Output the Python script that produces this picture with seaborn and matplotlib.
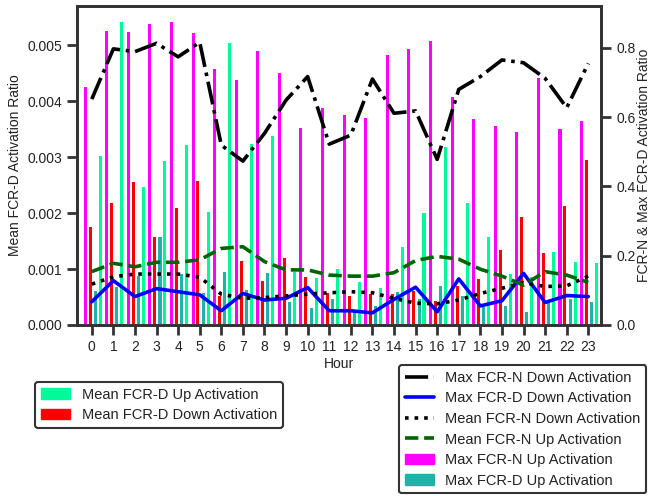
import numpy as np
import pandas as pd
import matplotlib
matplotlib.use("Agg")
import matplotlib.pyplot as plt
import seaborn as sns
from matplotlib.patches import Patch
from matplotlib.lines import Line2D
from matplotlib.ticker import FormatStrFormatter

hours = list(range(24))

# Left axis (bars)
mean_fcrd_up = [0.00303, 0.00541, 0.00247, 0.00293, 0.00321, 0.00202, 0.00505, 0.00324,
                0.00338, 0.00095, 0.00084, 0.00100, 0.00076, 0.00067, 0.00140, 0.00201,
                0.00319, 0.00219, 0.00158, 0.00092, 0.00085, 0.00130, 0.00112, 0.00110]
mean_fcrd_down = [0.00176, 0.00219, 0.00256, 0.00157, 0.00209, 0.00258, 0.00051, 0.00115,
                  0.00079, 0.00120, 0.00086, 0.00057, 0.00052, 0.00055, 0.00055, 0.00060,
                  0.00042, 0.00069, 0.00082, 0.00134, 0.00194, 0.00128, 0.00213, 0.00295]

# Right axis (bars)
max_fcrn_up = [0.686, 0.849, 0.846, 0.869, 0.874, 0.842, 0.739, 0.707,
               0.791, 0.726, 0.568, 0.625, 0.606, 0.598, 0.779, 0.797,
               0.820, 0.657, 0.594, 0.575, 0.558, 0.714, 0.566, 0.590]
max_fcrd_up = [0.099, 0.109, 0.141, 0.253, 0.147, 0.091, 0.152, 0.101,
               0.151, 0.067, 0.048, 0.075, 0.038, 0.055, 0.094, 0.075,
               0.113, 0.084, 0.053, 0.056, 0.038, 0.063, 0.075, 0.066]

# Right axis (lines)
max_fcrn_down = [0.652, 0.797, 0.789, 0.813, 0.774, 0.816, 0.519, 0.473,
                 0.553, 0.649, 0.717, 0.522, 0.548, 0.710, 0.611, 0.618,
                 0.478, 0.680, 0.717, 0.765, 0.757, 0.712, 0.627, 0.755]
max_fcrd_down = [0.067, 0.128, 0.082, 0.105, 0.096, 0.087, 0.041, 0.091,
                 0.072, 0.077, 0.108, 0.041, 0.041, 0.035, 0.074, 0.109,
                 0.038, 0.133, 0.055, 0.070, 0.149, 0.065, 0.085, 0.082]
mean_fcrn_down = [0.118, 0.139, 0.147, 0.147, 0.147, 0.138, 0.089, 0.077,
                  0.079, 0.084, 0.089, 0.093, 0.096, 0.093, 0.077, 0.063,
                  0.061, 0.072, 0.091, 0.106, 0.122, 0.111, 0.113, 0.141]
mean_fcrn_up = [0.154, 0.178, 0.168, 0.181, 0.181, 0.188, 0.221, 0.226,
                0.183, 0.159, 0.159, 0.144, 0.141, 0.141, 0.151, 0.186,
                0.198, 0.190, 0.161, 0.141, 0.115, 0.154, 0.144, 0.123]

sns.set_style("ticks")
plt.rcParams['font.family'] = ['Liberation Sans', 'DejaVu Sans']
plt.rcParams['font.size'] = 10

fig = plt.figure(figsize=(6.53, 4.96), dpi=100)
ax1 = fig.add_axes([0.1184, 0.3448, 0.9204 - 0.1184, 0.9885 - 0.3448])
ax2 = ax1.twinx()

h = np.array(hours, dtype=float)
bw = 0.14
c_green = "#00FA9A"
c_red = "#FF0000"
c_mag = "#FF00FF"
c_teal = "#20B2AA"

bar_kw = dict(native_scale=True, width=bw, saturation=1, errorbar=None,
              linewidth=0, antialiased=False)
sns.barplot(x=h - 0.08, y=mean_fcrd_down, color=c_red, ax=ax1, **bar_kw)
sns.barplot(x=h + 0.39, y=mean_fcrd_up, color=c_green, ax=ax1, **bar_kw)
sns.barplot(x=h - 0.31, y=max_fcrn_up, color=c_mag, ax=ax2, **bar_kw)
sns.barplot(x=h + 0.16, y=max_fcrd_up, color=c_teal, ax=ax2, **bar_kw)

lw = 2.6
sns.lineplot(x=h, y=max_fcrn_down, ax=ax2, color="black", linewidth=lw, linestyle="-.")
sns.lineplot(x=h, y=max_fcrd_down, ax=ax2, color="blue", linewidth=lw, linestyle="-")
sns.lineplot(x=h, y=mean_fcrn_down, ax=ax2, color="black", linewidth=lw, linestyle=":")
sns.lineplot(x=h, y=mean_fcrn_up, ax=ax2, color="darkgreen", linewidth=lw, linestyle="--")

ax1.set_xlim(-0.67, 23.59)
ax1.set_ylim(0, 0.00571)
ax2.set_ylim(0, 0.9216)
ax1.set_xticks(hours)
ax1.set_xticklabels([str(x) for x in hours])
ax1.set_yticks([0, 0.001, 0.002, 0.003, 0.004, 0.005])
ax1.yaxis.set_major_formatter(FormatStrFormatter('%.3f'))
ax2.set_yticks([0, 0.2, 0.4, 0.6, 0.8])
ax2.yaxis.set_major_formatter(FormatStrFormatter('%.1f'))

spine_c = "#333333"
for ax in (ax1, ax2):
    for s in ax.spines.values():
        s.set_visible(True)
        s.set_linewidth(2.0)
        s.set_edgecolor(spine_c)
    ax.tick_params(axis='both', length=7.5, width=2, color=spine_c, labelsize=10,
                   labelcolor="#222222")
    ax.grid(False)

ax1.set_xlabel("Hour", fontsize=10, color="#222222", labelpad=2)
ax1.set_ylabel("Mean FCR-D Activation Ratio", fontsize=10, color="#222222")
ax2.set_ylabel("FCR-N & Max FCR-D Activation Ratio", fontsize=10, color="#222222",
               labelpad=1.2)
ax2.set_xlabel("")

left_handles = [Patch(color=c_green, label="Mean FCR-D Up Activation"),
                Patch(color=c_red, label="Mean FCR-D Down Activation")]
right_handles = [Line2D([], [], color="black", lw=lw, ls="-.", label="Max FCR-N Down Activation"),
                 Line2D([], [], color="blue", lw=lw, ls="-", label="Max FCR-D Down Activation"),
                 Line2D([], [], color="black", lw=lw, ls=":", label="Mean FCR-N Down Activation"),
                 Line2D([], [], color="darkgreen", lw=lw, ls="--", label="Mean FCR-N Up Activation"),
                 Patch(color=c_mag, label="Max FCR-N Up Activation"),
                 Patch(color=c_teal, label="Max FCR-D Up Activation")]

for handles, loc, anchor in [(left_handles, "upper left", (0.0536, 0.2304)),
                             (right_handles, "upper right", (0.990, 0.2641))]:
    leg = fig.legend(handles=handles, loc=loc, bbox_to_anchor=anchor,
                     bbox_transform=fig.transFigure, fontsize=10.5, frameon=True,
                     fancybox=True, borderaxespad=0, labelspacing=0.45)
    fr = leg.get_frame()
    fr.set_edgecolor(spine_c)
    fr.set_linewidth(1.5)
    fr.set_alpha(1)
    for t in leg.get_texts():
        t.set_color("#222222")

fig.savefig("out.png", dpi=100)
